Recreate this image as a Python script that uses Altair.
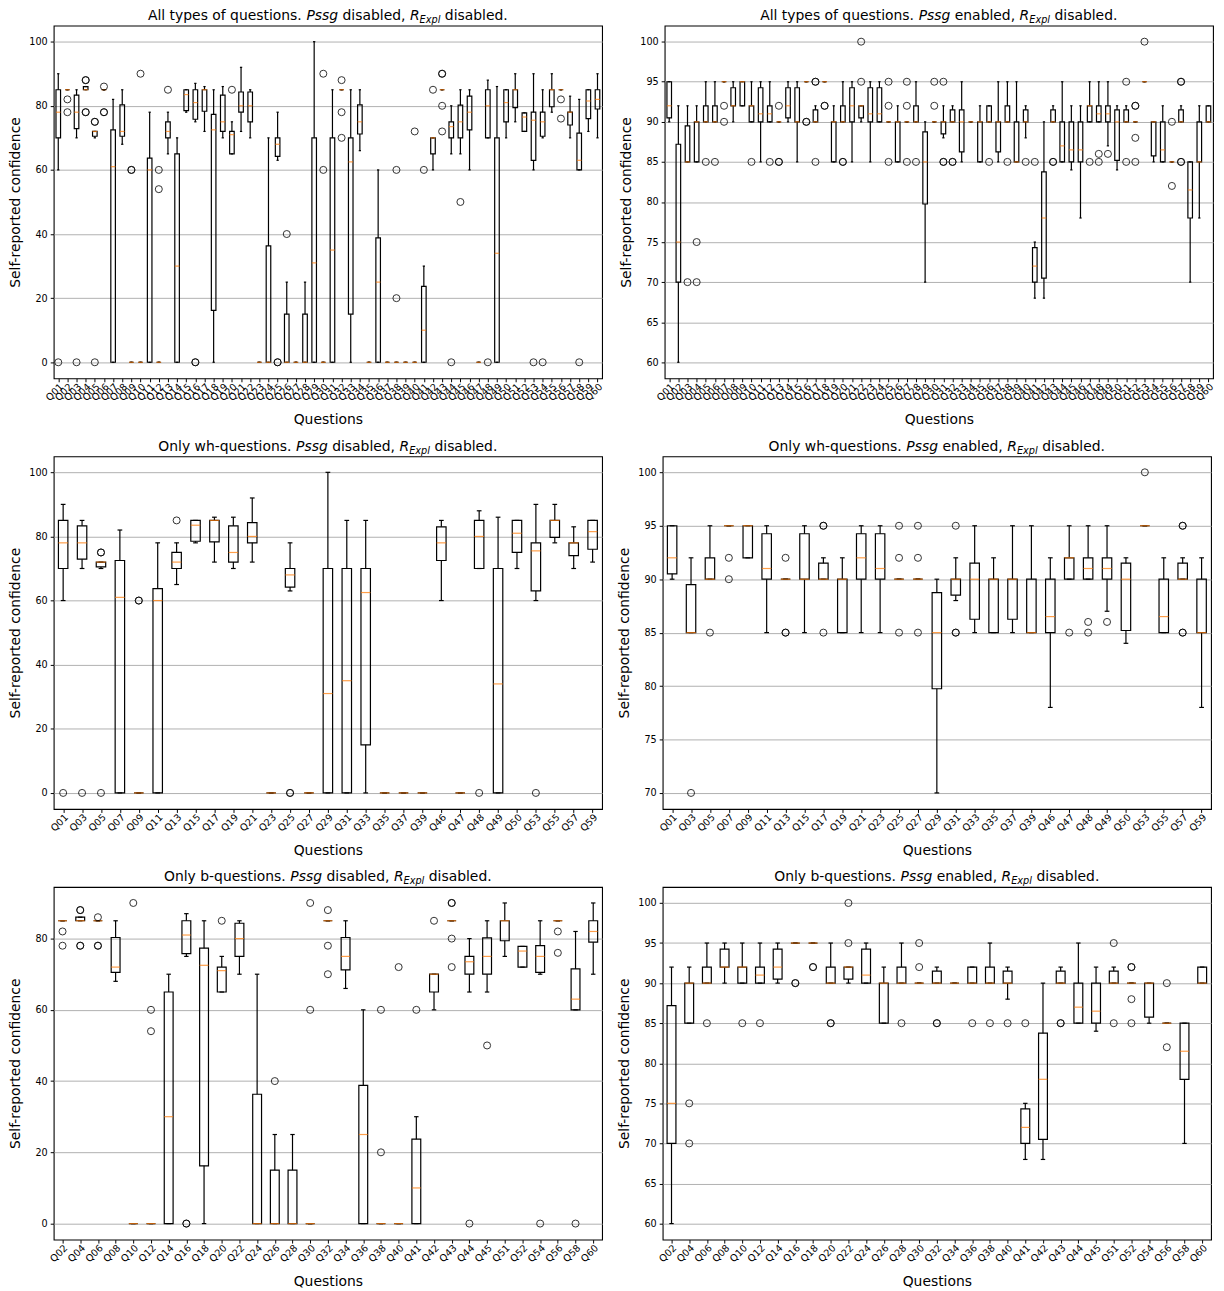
import altair as alt
import pandas as pd

# ---------------- data ----------------
QUESTIONS = ["Q01", "Q02", "Q03", "Q04", "Q05", "Q06", "Q07", "Q08", "Q09", "Q10",
             "Q11", "Q12", "Q13", "Q14", "Q15", "Q16", "Q17", "Q18", "Q19", "Q20",
             "Q21", "Q22", "Q23", "Q24", "Q25", "Q26", "Q27", "Q28", "Q29", "Q30",
             "Q31", "Q32", "Q33", "Q34", "Q35", "Q36", "Q37", "Q38", "Q39", "Q40",
             "Q41", "Q42", "Q43", "Q44", "Q45", "Q46", "Q47", "Q48", "Q49", "Q50",
             "Q51", "Q52", "Q53", "Q54", "Q55", "Q56", "Q57", "Q58", "Q59", "Q60"]

WH_QUESTIONS = ["Q01", "Q03", "Q05", "Q07", "Q09", "Q11", "Q13", "Q15", "Q17", "Q19",
                "Q21", "Q23", "Q25", "Q27", "Q29", "Q31", "Q33", "Q35", "Q37", "Q39",
                "Q46", "Q47", "Q48", "Q49", "Q50", "Q53", "Q55", "Q57", "Q59"]

B_QUESTIONS = ["Q02", "Q04", "Q06", "Q08", "Q10", "Q12", "Q14", "Q16", "Q18", "Q20",
               "Q22", "Q24", "Q26", "Q28", "Q30", "Q32", "Q34", "Q36", "Q38", "Q40",
               "Q41", "Q42", "Q43", "Q44", "Q45", "Q51", "Q52", "Q54", "Q56", "Q58", "Q60"]

# Pssg disabled: whisker low, Q1, median, Q3, whisker high, outliers (per question Q01..Q60)
D_LO = [60, 85, 70, 85, 70, 85, 0, 68, 0, 0,
        0, 0, 65, 0, 78, 75, 72, 0, 70, 65,
        72, 70, 0, 0, 63, 0, 0, 0, 0, 0,
        0, 85, 0, 66, 0, 0, 0, 0, 0, 0,
        0, 60, 85, 65, 65, 60, 0, 70, 0, 70,
        75, 72, 60, 70, 78, 85, 70, 60, 72, 70]
D_Q1 = [70, 85, 72.9, 85, 70.5, 85, 0, 70.5, 0, 0,
        0, 0, 70, 0, 78.5, 75.8, 78.3, 16.2, 72, 65,
        78, 75, 0, 0, 64.2, 0, 0, 0, 0, 0,
        0, 85, 15, 71.2, 0, 0, 0, 0, 0, 0,
        0, 65, 85, 70, 70, 72.5, 0, 70, 0, 75,
        79.4, 72, 63, 70.5, 79.7, 85, 74, 60, 76, 79]
D_MED = [78, 85, 78, 85, 72, 85, 61, 72, 0, 0,
         60, 0, 72, 30, 83.5, 81, 85, 72.5, 75, 71,
         80, 80, 0, 0, 68, 0, 0, 0, 31, 0,
         35, 85, 62.5, 75, 0, 25, 0, 0, 0, 0,
         10, 70, 85, 73.5, 75, 78, 0, 80, 34, 81,
         85, 76.5, 75.5, 75, 85, 85, 78, 63, 81.5, 82]
D_Q3 = [85, 85, 83.3, 86, 72, 85, 72.5, 80.3, 0, 0,
        63.7, 0, 75, 65, 85, 85, 85, 77.3, 83.3, 72,
        84.3, 84.3, 0, 36.3, 70, 15, 0, 15, 70, 0,
        70, 85, 70, 80.3, 0, 38.8, 0, 0, 0, 0,
        23.7, 70, 85, 75, 80.2, 83, 0, 85, 70, 85,
        85, 77.8, 78, 78, 85, 85, 78, 71.5, 85, 85]
D_HI = [90, 85, 85, 86, 72, 85, 82, 85, 0, 0,
        78, 0, 78, 70, 85, 87, 86, 85, 86, 75,
        92, 85, 0, 70, 78, 25, 0, 25, 100, 0,
        85, 85, 85, 85, 0, 60, 0, 0, 0, 0,
        30, 70, 85, 80, 85, 85, 0, 88, 86, 85,
        90, 77.8, 90, 85, 90, 85, 83, 82, 85, 90]
D_OUT = [[0], [82, 78], [0], [88, 88, 78, 78], [75, 75, 0], [86, 78, 78], [], [], [60, 60], [90],
         [], [60, 54], [85], [], [], [0, 0], [], [], [], [85],
         [], [], [], [], [0, 0], [40], [], [], [], [90, 60],
         [], [88, 78, 70], [], [], [], [], [], [60, 20], [], [72],
         [60], [85], [90, 90, 80, 72], [0], [50], [], [], [0], [], [],
         [], [], [0], [0], [], [82, 76], [], [0], [], []]

# Pssg enabled
E_LO = [90, 60, 85, 85, 90, 90, 95, 90, 92, 90,
        85, 90, 90, 90, 85, 95, 90, 95, 85, 90,
        85, 90, 85, 90, 90, 85, 90, 90, 70, 90,
        88, 90, 85, 90, 85, 90, 85, 90, 85, 88,
        68, 68, 90, 85, 84, 78, 90, 90, 87, 84,
        90, 90, 95, 85, 85, 85, 90, 70, 78, 90]
E_Q1 = [90.5, 70, 85, 85, 90, 90, 95, 92, 92, 90,
        90, 90, 90, 90.5, 90, 95, 90, 95, 85, 90,
        90, 90.5, 90, 90, 90, 85, 90, 90, 79.75, 90,
        88.5, 90, 86.25, 90, 85, 90, 86.25, 90, 85, 90,
        70, 70.5, 90, 85, 85, 85, 90, 90, 90, 85.2,
        90, 90, 95, 85.75, 85, 85, 90, 78, 85, 90]
E_MED = [92, 75, 85, 90, 90, 90, 95, 92, 95, 92,
         91, 91, 90, 92, 90, 95, 90, 95, 90, 90,
         92, 92, 91, 91, 90, 90, 90, 90, 85, 90,
         90, 90, 90, 90, 90, 90, 90, 90, 85, 90,
         72, 78, 90, 87, 86.5, 86.5, 92, 91, 91, 90,
         90, 90, 95, 90, 86.5, 85, 90, 81.5, 85, 90]
E_Q3 = [95, 87.2, 89.5, 90, 92, 92, 95, 94.25, 95, 92,
        94.25, 92, 90, 94.25, 94.25, 95, 91.5, 95, 90, 92,
        94.25, 92, 94.25, 94.25, 90, 90, 90, 92, 88.75, 90,
        90, 91.5, 91.5, 90, 90, 92, 90, 92, 90, 91.5,
        74.3, 83.75, 91.5, 90, 90, 90, 92, 92, 92, 91.5,
        91.5, 90, 95, 90, 90, 85, 91.5, 85, 90, 92]
E_HI = [95, 92, 92, 92, 95, 95, 95, 95, 95, 95,
        95, 95, 90, 95, 95, 95, 92, 95, 92, 95,
        95, 92, 95, 95, 90, 92, 90, 95, 90, 90,
        92, 92, 95, 90, 92, 92, 95, 95, 95, 92,
        75, 90, 92, 95, 92, 92, 95, 95, 95, 92,
        92, 90, 95, 90, 92, 85, 92, 85, 92, 92]
E_OUT = [[], [], [70], [75, 70], [85], [85], [92, 90], [], [], [85],
         [], [85], [92, 85, 85], [], [], [90, 90], [95, 95, 85], [92, 92], [], [85, 85],
         [], [100, 95], [], [], [95, 92, 85], [], [95, 92, 85], [85], [], [95, 92],
         [95, 85, 85], [85, 85], [], [], [], [85], [], [85], [], [85],
         [85], [], [85, 85], [], [], [], [85], [86, 85], [86], [],
         [95, 85], [92, 92, 88, 85], [100], [], [], [90, 82], [95, 95, 85, 85], [], [], []]

PANEL_PREFIX = ["All types of questions.", "All types of questions.",
                "Only wh-questions.", "Only wh-questions.",
                "Only b-questions.", "Only b-questions."]
PANEL_PSSG = ["disabled", "enabled", "disabled", "enabled", "disabled", "enabled"]

# ---------------- styling ----------------
W, H = 552, 355
FONT = "DejaVu Sans"
FS = 14
SUB_FS = 9.8
TICK_FS = 9.7
LW = 1.2
ORANGE = "#ff7f0e"

# DejaVu Sans advance widths (em)
ADV = {' ': .318, ',': .318, '.': .318, '-': .361, 'A': .684, 'E': .632, 'O': .787,
       'P': .603, 'R': .695, 'a': .613, 'b': .635, 'd': .635, 'e': .615, 'f': .352,
       'g': .635, 'h': .634, 'i': .278, 'l': .278, 'n': .634, 'o': .612, 'p': .635,
       'q': .635, 'r': .411, 's': .521, 't': .392, 'u': .634, 'w': .818, 'x': .592,
       'y': .592}


def tw(s, fs):
    return sum(ADV.get(c, 0.6) for c in s) * fs


def title_layers(prefix, state):
    segs = [(prefix + " ", "normal", False), ("Pssg", "italic", False),
            (" " + state + ", ", "normal", False), ("R", "italic", False),
            ("Expl", "italic", True), (" disabled.", "normal", False)]
    widths = [tw(t, SUB_FS if sub else FS) for t, _, sub in segs]
    x = W / 2 - sum(widths) / 2
    base_y = -5.5
    layers = []
    for (t, style, sub), w in zip(segs, widths):
        fs = SUB_FS if sub else FS
        lead = len(t) - len(t.lstrip())
        xs = x + tw(" " * lead, fs)
        layers.append(
            alt.Chart(pd.DataFrame({"t": [t.strip()]}))
            .mark_text(align="left", baseline="alphabetic", font=FONT, fontSize=fs,
                       fontStyle=style, color="black")
            .encode(text="t:N", x=alt.value(xs), y=alt.value(base_y + (3 if sub else 0)))
        )
        x += w
    return layers


def panel(cond, subset, ydom, yticks, k):
    lo, q1, med, q3, hi, out = cond
    idx = [QUESTIONS.index(q) for q in subset]
    df = pd.DataFrame({
        "q": subset,
        "lo": [lo[i] for i in idx], "q1": [q1[i] for i in idx],
        "med": [med[i] for i in idx], "q3": [q3[i] for i in idx],
        "hi": [hi[i] for i in idx],
    })
    odf = pd.DataFrame([(QUESTIONS[i], v) for i in idx for v in out[i]], columns=["q", "v"])
    n = len(subset)
    step = W / n
    box_w = 0.5 * step
    cap_w = 0.25 * step

    xenc = alt.X("q:N", sort=subset,
                 scale=alt.Scale(type="point", domain=subset, padding=0.5),
                 axis=alt.Axis(title="Questions", labelAngle=315, labelAlign="right",
                               labelBaseline="middle", labelOverlap=False, labelPadding=3,
                               labelOffset=3, labelFontSize=TICK_FS, tickSize=3.5,
                               minExtent=29, maxExtent=29, titlePadding=6, grid=False,
                               domain=False))
    yscale = alt.Scale(domain=ydom, nice=False, zero=False)
    yaxis = alt.Axis(title="Self-reported confidence", values=yticks, grid=True,
                     gridColor="#b0b0b0", gridWidth=1, tickSize=3.5, labelPadding=3,
                     labelFontSize=TICK_FS, minExtent=25, maxExtent=25, titlePadding=6,
                     domain=False)

    def Y(f):
        return alt.Y(f, type="quantitative", scale=yscale, axis=yaxis)

    base = alt.Chart(df)
    lower = base.mark_rule(color="black", strokeWidth=LW).encode(x=xenc, y=Y("lo"), y2="q1")
    upper = base.mark_rule(color="black", strokeWidth=LW).encode(x=xenc, y=Y("q3"), y2="hi")
    cap_lo = base.mark_tick(color="black", thickness=LW, size=cap_w, opacity=1).encode(x=xenc, y=Y("lo"))
    cap_hi = base.mark_tick(color="black", thickness=LW, size=cap_w, opacity=1).encode(x=xenc, y=Y("hi"))
    box = base.mark_bar(fill="white", fillOpacity=0, stroke="black", strokeWidth=LW,
                        size=box_w).encode(x=xenc, y=Y("q1"), y2="q3")
    median = base.mark_tick(color=ORANGE, thickness=LW, size=box_w, opacity=0.75).encode(
        x=xenc, y=Y("med"))
    fliers = alt.Chart(odf).mark_point(shape="circle", filled=False, color="black", size=50,
                                       strokeWidth=1, opacity=0.8).encode(x=xenc, y=Y("v"))
    layers = [lower, upper, cap_lo, cap_hi, box, median, fliers] + \
        title_layers(PANEL_PREFIX[k], PANEL_PSSG[k])
    return alt.layer(*layers).properties(width=W, height=H)


COND_D = (D_LO, D_Q1, D_MED, D_Q3, D_HI, D_OUT)
COND_E = (E_LO, E_Q1, E_MED, E_Q3, E_HI, E_OUT)

t_all = [0, 20, 40, 60, 80, 100]
t_hi = [60, 65, 70, 75, 80, 85, 90, 95, 100]
t_wh = [70, 75, 80, 85, 90, 95, 100]
t_b = [0, 20, 40, 60, 80]

p1 = panel(COND_D, QUESTIONS, [-5, 105], t_all, 0)
p2 = panel(COND_E, QUESTIONS, [58, 102], t_hi, 1)
p3 = panel(COND_D, WH_QUESTIONS, [-5, 105], t_all, 2)
p4 = panel(COND_E, WH_QUESTIONS, [68.5, 101.5], t_wh, 3)
p5 = panel(COND_D, B_QUESTIONS, [-4.5, 94.5], t_b, 4)
p6 = panel(COND_E, B_QUESTIONS, [58, 102], t_hi, 5)

chart = alt.vconcat(
    alt.hconcat(p1, p2, spacing=14),
    alt.hconcat(p3, p4, spacing=14),
    alt.hconcat(p5, p6, spacing=14),
    spacing=10.5,
).properties(
    padding={"left": 0, "top": -4.5, "right": 0, "bottom": 0}, background="white"
).configure(
    font=FONT
).configure_view(
    stroke="black", strokeWidth=1.1
).configure_axis(
    labelColor="black", tickColor="black", titleColor="black", titleFontSize=FS,
    titleFontWeight="normal", titleFont=FONT, labelFont=FONT, tickWidth=1
)

chart.save("out.html", embed_options={"renderer": "svg", "actions": False})
